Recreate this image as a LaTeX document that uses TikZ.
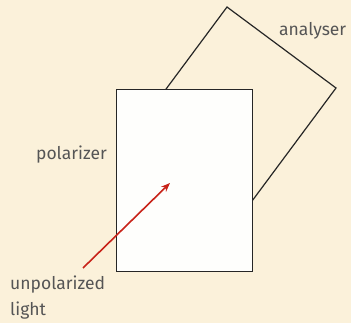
\documentclass[tikz,border=0pt]{standalone}
\usepackage{fontspec}
\setmainfont{Fira Sans}
\usetikzlibrary{arrows.meta}
\definecolor{bg}{RGB}{251,241,218}
\definecolor{sheet}{RGB}{254,254,252}
\definecolor{txt}{RGB}{85,85,85}
\definecolor{ray}{RGB}{200,35,25}
\tikzset{
  lbl/.style={text=txt, font=\fontsize{17.5}{26}\selectfont, inner sep=0pt},
  plate/.style={draw=black!85, line width=1.2pt}
}
\begin{document}
\begin{tikzpicture}[x=1pt,y=-1pt]
\fill[bg] (0,0) rectangle (351,323);
\useasboundingbox (0,0) rectangle (351,323);
% analyser (rotated rectangle)
\coordinate (aT) at (227,7);
\coordinate (aR) at (336,88);
\coordinate (aBR) at (227.6,233.9);
\coordinate (aBL) at (118.6,152.9);
\draw[plate, fill=bg, line join=miter] (aT) -- (aR) -- (aBR) -- (aBL) -- cycle;
% polarizer
\node[plate, fill=sheet, minimum width=136pt, minimum height=182pt, inner sep=0pt, anchor=north west] (pol) at (116,89) {};
% labels
\node[lbl, anchor=base east] (lp) at (107,160) {polarizer};
\node[lbl, anchor=base west] (la) at (279,36) {analyser};
\node[lbl, anchor=base west, align=left] (lu) at (10,316) {unpolarized\\light};
% ray
\coordinate (rs) at (83,268);
\coordinate (re) at (170,183);
\draw[ray, line width=1.6pt, -{Stealth[length=9pt,width=7pt]}] (rs) -- (re);
\end{tikzpicture}
\end{document}
